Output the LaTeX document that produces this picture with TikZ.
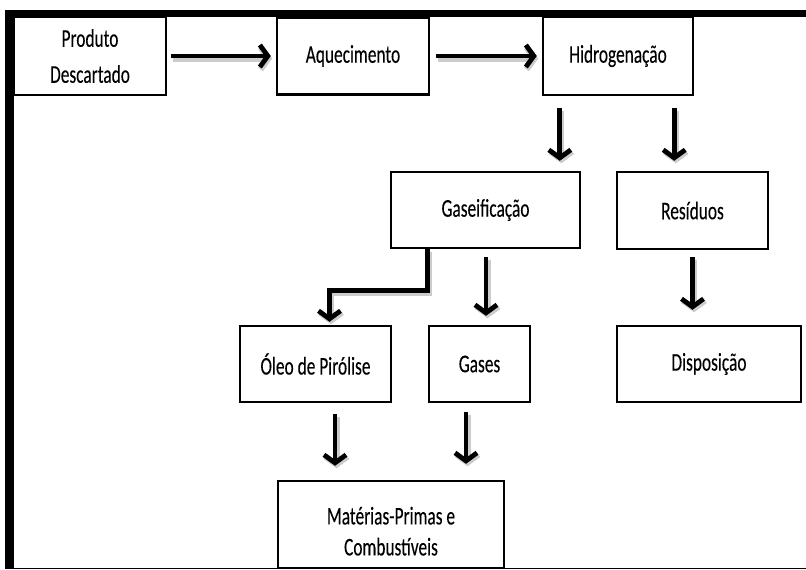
\documentclass[tikz,border=0pt]{standalone}
\usepackage{fontspec}
\setmainfont[FakeStretch=0.68, FakeBold=0.15]{Carlito}
\usetikzlibrary{arrows.meta}

\begin{document}
\begin{tikzpicture}[x=1pt, y=-1pt,
  box/.style n args={2}{draw, line width=2.4, minimum width=#1, minimum height=#2,
    inner sep=0pt, align=center, font=\fontsize{25.5}{36}\selectfont},
  arr/.style={line width=4.8,
    -{Straight Barb[length=8, width=22]},
    preaction={draw=black, opacity=0.2, line width=6,
      transform canvas={shift={(1.5,2.5)}}}}]
\useasboundingbox (0,0) rectangle (806,570);

% outer frame: heavy top and left rules, thin base line
\fill (5,10) rectangle (806,17);
\fill (5,10) rectangle (14,569);
\draw[line width=1.5] (5,568.5) -- (806,568.5);

% process boxes
\node[box={152}{78}] (prod) at (90,56) {Produto\\Descartado};
\node[box={152}{77}] (aq) at (353,56) {Aquecimento};
\node[box={150}{78}] (hid) at (618,56) {Hidrogenação};
\node[box={189}{76}] (gas) at (485.5,210) {Gaseificação};
\node[box={151}{77}] (res) at (692.5,210.5) {Resíduos};
\node[box={151}{76}] (oleo) at (315.5,364) {Óleo de Pirólise};
\node[box={101}{76}] (gases) at (479.5,364) {Gases};
\node[box={184}{76}] (disp) at (709,364) {Disposição};
\node[box={226}{87}, font=\fontsize{25.5}{31}\selectfont] (mat) at (391,524.5)
  {\rule{0pt}{31pt}Matérias-Primas e\\Combustíveis};

% connectors
\draw[arr, shorten <=4, shorten >=5] (prod.east) -- (aq.west);
\draw[arr, shorten <=6, shorten >=5] (aq.east) -- (hid.west);
\draw[arr, shorten <=12, shorten >=10]
  ([xshift=18]hid.south west) -- ([xshift=18]hid.south west |- gas.north);
\draw[arr, shorten <=12, shorten >=10]
  ([xshift=-20]hid.south east) -- ([xshift=-20]hid.south east |- res.north);
\draw[arr, shorten >=3]
  ([xshift=38]gas.south west) -- ++(0,41) -| ([xshift=14]oleo.north);
\draw[arr, shorten <=8, shorten >=9]
  ([xshift=0.5]gas.south) -- ([xshift=0.5]gas.south |- gases.north);
\draw[arr, shorten <=7, shorten >=15] (res.south) -- (disp.north -| res.south);
\draw[arr, shorten <=11, shorten >=14]
  ([xshift=19.5]oleo.south) -- ([xshift=19.5]oleo.south |- mat.north);
\draw[arr, shorten <=9, shorten >=16]
  ([xshift=-13.5]gases.south) -- ([xshift=-13.5]gases.south |- mat.north);
\end{tikzpicture}
\end{document}
